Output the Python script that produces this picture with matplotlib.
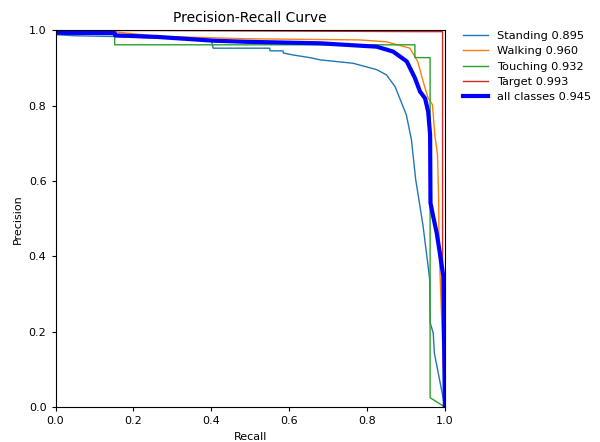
import matplotlib.pyplot as plt

# ===============================
# Datos de las curvas
# ===============================
standing_r = [0.0, 0.05, 0.15, 0.40, 0.405, 0.55, 0.551, 0.584, 0.585, 0.61, 0.653, 0.68,
              0.764, 0.825, 0.85, 0.872, 0.884, 0.901, 0.914, 0.925, 0.936, 0.944, 0.957,
              0.961, 0.962, 0.97, 0.973, 1.0]
standing_p = [0.989, 0.986, 0.984, 0.975, 0.953, 0.953, 0.946, 0.946, 0.94, 0.935, 0.928, 0.922,
              0.913, 0.896, 0.882, 0.851, 0.82, 0.776, 0.71, 0.604, 0.533, 0.48, 0.373,
              0.338, 0.224, 0.197, 0.143, 0.0]

walking_r = [0.0, 0.157, 0.26, 0.49, 0.78, 0.85, 0.91, 0.93, 0.944, 0.957, 0.968, 0.974,
             0.981, 0.984, 0.985, 1.0]
walking_p = [1.0, 0.996, 0.985, 0.978, 0.975, 0.97, 0.953, 0.918, 0.865, 0.82, 0.803, 0.723,
             0.67, 0.55, 0.426, 0.0]

touching_r = [0.0, 0.152, 0.152, 0.923, 0.923, 0.962, 0.962, 1.0]
touching_p = [0.99, 0.99, 0.962, 0.962, 0.928, 0.928, 0.025, 0.0]

target_r = [0.0, 0.25, 0.94, 0.994, 0.994, 1.0]
target_p = [1.0, 1.0, 0.997, 0.997, 0.3, 0.0]

all_r = [0.0, 0.152, 0.153, 0.26, 0.405, 0.49, 0.68, 0.825, 0.867, 0.902, 0.923, 0.936,
         0.949, 0.957, 0.962, 0.963, 0.97, 0.979, 0.987, 0.996, 1.0]
all_p = [0.994, 0.993, 0.987, 0.983, 0.973, 0.97, 0.966, 0.957, 0.944, 0.918, 0.874, 0.838,
         0.82, 0.785, 0.723, 0.542, 0.506, 0.462, 0.409, 0.347, 0.0]

nombres = ['Standing 0.895', 'Walking 0.960', 'Touching 0.932', 'Target 0.993']
etiqueta_all = 'all classes 0.945'

# ===============================
# Gráfico
# ===============================
fig = plt.figure(figsize=(6, 4.42), dpi=100)
ax = fig.add_axes([0.0925, 0.079, 0.649, 0.852])

curvas = [(standing_r, standing_p), (walking_r, walking_p),
          (touching_r, touching_p), (target_r, target_p)]
for i, (r, p) in enumerate(curvas):
    ax.plot(r, p, linewidth=1, color=f'C{i}', label=nombres[i])
ax.plot(all_r, all_p, linewidth=3, color='blue', label=etiqueta_all)

ax.set_xlim(0, 1)
ax.set_ylim(0, 1)
ax.set_xlabel('Recall', fontsize=8)
ax.set_ylabel('Precision', fontsize=8)
ax.set_title('Precision-Recall Curve', fontsize=10)
ax.tick_params(labelsize=8, length=3)
ax.legend(bbox_to_anchor=(1.02, 1.025), loc='upper left', frameon=False, fontsize=8.2,
          handlelength=2.2, labelspacing=0.45)

plt.savefig('out.png', dpi=100)
